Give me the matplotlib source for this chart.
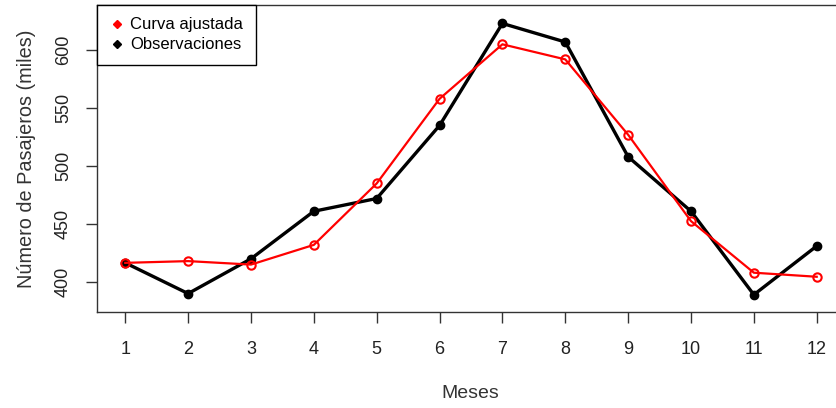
import matplotlib.pyplot as plt
from matplotlib.lines import Line2D

plt.rcParams['font.family'] = ['Liberation Sans', 'DejaVu Sans']

meses = [1, 2, 3, 4, 5, 6, 7, 8, 9, 10, 11, 12]
observaciones = [416.5, 390, 420, 461, 472, 535, 623, 607, 508, 461, 389, 431]
curva_ajustada = [416.5, 418, 415, 432, 485, 558, 605, 592, 527, 452.5, 408, 404.5]
yticks = [400, 450, 500, 550, 600]

fig = plt.figure(figsize=(8.36, 4.08), dpi=100)
ax = fig.add_axes([0.116, 0.235, 0.894, 0.753])

ax.plot(meses, observaciones, '-', color='black', lw=2.4, marker='o',
        ms=6, mfc='black', mec='black', zorder=2)
ax.plot(meses, curva_ajustada, '-', color='red', lw=1.6, marker='o',
        ms=6, mfc='none', mec='red', mew=1.5, zorder=3)

ax.set_xlim(0.55, 12.44)
ax.set_ylim(374, 639)
ax.set_xticks(meses)
ax.set_yticks(yticks)
ax.set_xticklabels([str(m) for m in meses], fontsize=13, color='#222222')
ax.set_yticklabels([str(v) for v in yticks], fontsize=13, color='#222222',
                   rotation=90, va='center')
ax.tick_params(axis='both', direction='out', length=8, width=1, color='#333333')
ax.tick_params(axis='x', pad=13)
ax.tick_params(axis='y', pad=10)
for s in ax.spines.values():
    s.set_color('#333333')
    s.set_linewidth(1)

ax.set_xlabel('Meses', fontsize=14, color='#333333', labelpad=19)
ax.set_ylabel('Número de Pasajeros (miles)', fontsize=14.3, color='#333333', labelpad=14)

handles = [Line2D([], [], ls='none', marker='D', ms=4, color='red'),
           Line2D([], [], ls='none', marker='D', ms=4, color='black')]
leg = ax.legend(handles, ['Curva ajustada', 'Observaciones'], loc='upper left',
                bbox_to_anchor=(0, 1), borderaxespad=0, fancybox=False,
                framealpha=1, edgecolor='black', fontsize=12, handlelength=0.9,
                handletextpad=0.35, borderpad=0.75, labelspacing=0.3)
leg.get_frame().set_linewidth(1)

fig.savefig('out.png', dpi=100)
